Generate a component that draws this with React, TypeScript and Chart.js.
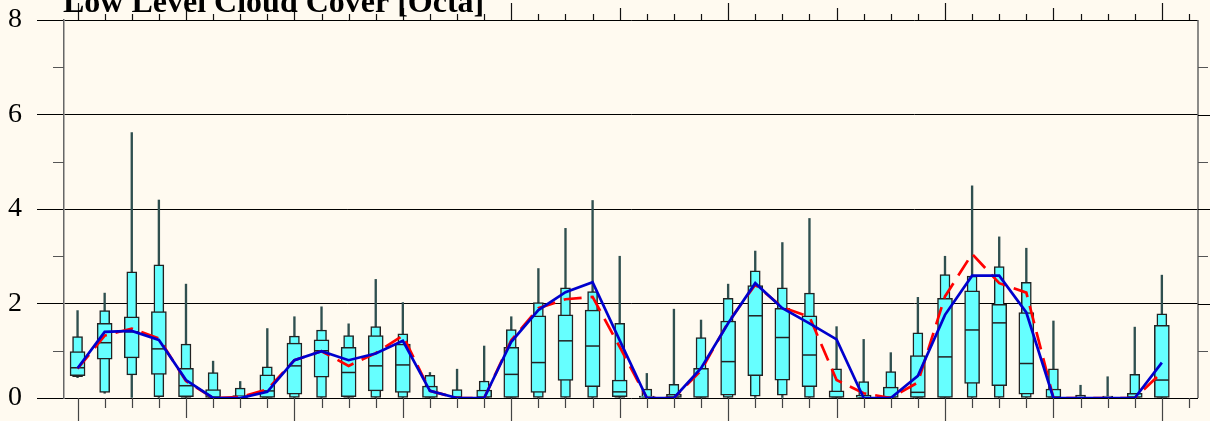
import React, { useEffect, useRef } from 'react';
import { Chart, registerables } from 'chart.js';

Chart.register(...registerables);

// Forecast lead time in hours (3-hourly steps)
const leadHours = [0, 3, 6, 9, 12, 15, 18, 21, 24, 27, 30, 33, 36, 39, 42, 45, 48, 51, 54, 57, 60, 63, 66, 69, 72, 75, 78, 81, 84, 87, 90, 93, 96, 99, 102, 105, 108, 111, 114, 117, 120];

// Ensemble distribution (octa)
const ensMin = [0.43, 0.10, 0, 0, 0, 0, 0, 0, 0, 0, 0, 0, 0, 0, 0, 0, 0, 0, 0, 0, 0, 0, 0, 0, 0, 0, 0, 0, 0, 0, 0, 0, 0, 0, 0, 0, 0, 0, 0, 0, 0];
const ensP10 = [0.45, 0.12, 0.49, 0.03, 0, 0, 0, 0, 0, 0, 0, 0, 0, 0, 0, 0, 0, 0, 0, 0, 0, 0, 0, 0, 0, 0.04, 0.06, 0, 0, 0, 0, 0, 0, 0, 0, 0, 0, 0, 0, 0, 0];
const ensP25 = [0.47, 0.82, 0.85, 0.50, 0.03, 0, 0, 0, 0.08, 0.44, 0.03, 0.15, 0.12, 0, 0, 0, 0, 0.12, 0.37, 0.24, 0.03, 0, 0, 0, 0.06, 0.47, 0.38, 0.24, 0, 0, 0, 0, 0, 0.31, 0.26, 0.08, 0, 0, 0, 0, 0];
const ensMedian = [0.64, 1.17, 1.40, 1.04, 0.26, 0, 0, 0.15, 0.68, 1.00, 0.54, 0.68, 0.70, 0, 0, 0, 0.50, 0.75, 1.21, 1.10, 0.13, 0, 0, 0, 0.77, 1.74, 1.28, 0.91, 0, 0, 0, 0.12, 0.87, 1.44, 1.59, 0.73, 0, 0, 0, 0, 0.38];
const ensP75 = [0.98, 1.58, 1.72, 1.83, 0.63, 0.18, 0.05, 0.49, 1.16, 1.23, 1.07, 1.32, 1.14, 0.25, 0, 0.17, 1.07, 1.74, 1.76, 1.86, 0.38, 0.04, 0.08, 0.63, 1.63, 2.38, 1.90, 1.74, 0.15, 0.06, 0.23, 0.90, 2.11, 2.27, 1.98, 1.81, 0.19, 0, 0, 0.10, 1.54];
const ensP90 = [1.30, 1.85, 2.67, 2.82, 1.14, 0.54, 0.21, 0.66, 1.31, 1.44, 1.32, 1.51, 1.36, 0.48, 0.18, 0.36, 1.45, 2.02, 2.33, 2.25, 1.58, 0.19, 0.29, 1.28, 2.11, 2.69, 2.33, 2.22, 0.62, 0.35, 0.56, 1.38, 2.61, 2.58, 2.78, 2.45, 0.62, 0.06, 0.04, 0.50, 1.78];
const ensMax = [1.85, 2.22, 5.62, 4.19, 2.41, 0.78, 0.35, 1.47, 1.72, 1.93, 1.57, 2.51, 2.02, 0.54, 0.61, 1.10, 1.72, 2.74, 3.59, 4.18, 3.00, 0.52, 1.88, 1.65, 2.41, 3.11, 3.29, 3.80, 1.51, 1.24, 0.96, 2.13, 3.00, 4.49, 3.41, 3.17, 1.63, 0.27, 0.45, 1.50, 2.60];
// Ensemble mean (blue) and deterministic forecast (red dashed)
const ensMean = [0.63, 1.40, 1.42, 1.23, 0.38, 0, 0, 0.13, 0.80, 0.99, 0.80, 0.94, 1.21, 0.15, 0, 0, 1.19, 1.86, 2.24, 2.45, 1.22, 0, 0, 0.63, 1.58, 2.43, 1.90, 1.58, 1.24, 0, 0, 0.47, 1.76, 2.59, 2.59, 1.81, 0, 0, 0, 0, 0.75];
const deterministic = [0.62, 1.32, 1.47, 1.26, 0.36, 0, 0.02, 0.18, 0.80, 0.99, 0.68, 0.95, 1.32, 0.15, 0, 0, 1.22, 1.90, 2.09, 2.14, 1.08, 0, 0, 0.58, 1.60, 2.40, 1.92, 1.72, 0.38, 0.10, 0, 0.33, 2.15, 3.05, 2.43, 2.23, 0, 0, 0, 0, 0.54];

const yTickValues = [0, 2, 4, 6, 8];
const titleText = 'Low Level Cloud Cover [Octa]';

const BG = '#FFFAF0';
const CYAN = '#66FFFF';
const EDGE = '#222222';
const WHISKER = '#2F4F4F';

function range(lo: number[], hi: number[]) {
  const out: { x: number; y: [number, number] }[] = [];
  leadHours.forEach((h, i) => {
    if (hi[i] - lo[i] > 0.001) out.push({ x: h, y: [lo[i], hi[i]] });
  });
  return out;
}

const decorPlugin = {
  id: 'decor',
  beforeDraw(chart: any) {
    const ctx = chart.ctx;
    ctx.save();
    ctx.fillStyle = BG;
    ctx.fillRect(0, 0, chart.width, chart.height);
    ctx.restore();
  },
  afterDraw(chart: any) {
    const ctx = chart.ctx;
    const xs = chart.scales.x;
    const ys = chart.scales.y;
    const area = chart.chartArea;
    ctx.save();
    // top and bottom time ticks
    for (let i = 0; i <= 41; i++) {
      const px = Math.round(xs.getPixelForValue(i * 3)) + 0.5;
      const topLen = i % 8 === 0 ? 17 : i % 8 === 4 ? 12 : 6;
      const botLen = i % 8 === 0 ? 23 : i % 8 === 4 ? 20 : 10;
      ctx.strokeStyle = '#111';
      ctx.lineWidth = 1.2;
      ctx.beginPath();
      ctx.moveTo(px, area.top);
      ctx.lineTo(px, area.top - topLen);
      ctx.stroke();
      ctx.strokeStyle = '#444';
      ctx.beginPath();
      ctx.moveTo(px, area.bottom);
      ctx.lineTo(px, area.bottom + botLen);
      ctx.stroke();
    }
    // right axis
    ctx.strokeStyle = '#666';
    ctx.lineWidth = 1.5;
    ctx.beginPath();
    ctx.moveTo(area.right, area.top);
    ctx.lineTo(area.right, area.bottom);
    ctx.stroke();
    // minor y ticks left and right
    ctx.lineWidth = 1;
    [1, 3, 5, 7].forEach((v) => {
      const py = Math.round(ys.getPixelForValue(v)) + 0.5;
      ctx.strokeStyle = '#555';
      ctx.beginPath();
      ctx.moveTo(area.left - 11, py);
      ctx.lineTo(area.left, py);
      ctx.moveTo(area.right, py);
      ctx.lineTo(area.right + 10, py);
      ctx.stroke();
    });
    // gridline extensions to the right
    ctx.strokeStyle = '#000';
    [2, 4, 6].forEach((v) => {
      const py = Math.round(ys.getPixelForValue(v)) + 0.5;
      ctx.beginPath();
      ctx.moveTo(area.right, py);
      ctx.lineTo(chart.width, py);
      ctx.stroke();
    });
    // title
    ctx.fillStyle = '#000';
    ctx.font = 'bold 32px "Liberation Serif", serif';
    ctx.textBaseline = 'alphabetic';
    ctx.textAlign = 'left';
    ctx.fillText(titleText, 63, 12);
    ctx.restore();
  },
};

export default function App() {
  const ref = useRef<HTMLCanvasElement | null>(null);
  useEffect(() => {
    if (!ref.current) return;
    const boxBase = {
      type: 'bar' as const,
      grouped: false,
      backgroundColor: CYAN,
      borderColor: EDGE,
      borderWidth: 1.5,
      borderSkipped: false,
    };
    const chart = new Chart(ref.current, {
      type: 'bar',
      data: {
        datasets: [
          {
            type: 'line',
            label: 'mean',
            data: leadHours.map((h, i) => ({ x: h, y: ensMean[i] })),
            borderColor: '#0000CD',
            borderWidth: 2.7,
            pointRadius: 0,
            tension: 0,
            order: 1,
          } as any,
          {
            type: 'line',
            label: 'deterministic',
            data: leadHours.map((h, i) => ({ x: h, y: deterministic[i] })),
            borderColor: '#FF0000',
            borderWidth: 2.7,
            borderDash: [18, 9],
            pointRadius: 0,
            tension: 0,
            order: 2,
          } as any,
          {
            type: 'line',
            label: 'median',
            data: leadHours
              .map((h, i) => ({ x: h, y: ensMedian[i], ok: ensMedian[i] > ensP25[i] }))
              .filter((d) => d.ok)
              .map((d) => ({ x: d.x, y: d.y })),
            showLine: false,
            pointStyle: 'line',
            pointRadius: 7,
            pointBorderWidth: 1.5,
            pointBorderColor: EDGE,
            order: 3,
          } as any,
          { ...boxBase, label: 'p25-p75', data: range(ensP25, ensP75), barThickness: 15, order: 4 } as any,
          { ...boxBase, label: 'p10-p90', data: range(ensP10, ensP90), barThickness: 10, order: 5 } as any,
          {
            type: 'bar',
            label: 'min-max',
            grouped: false,
            data: range(ensMin, ensMax),
            barThickness: 1.7,
            backgroundColor: WHISKER,
            borderWidth: 0,
            order: 6,
          } as any,
        ],
      },
      options: {
        responsive: false,
        animation: false,
        devicePixelRatio: 1,
        layout: { padding: { left: 0, top: 20, right: 12, bottom: 23 } },
        plugins: { legend: { display: false }, tooltip: { enabled: false } },
        scales: {
          x: {
            type: 'linear',
            min: -1.5,
            max: 124,
            offset: false,
            display: false,
          },
          y: {
            type: 'linear',
            position: 'left',
            min: 0,
            max: 8,
            afterFit: (s: any) => {
              s.width = 64;
              s.paddingTop = 0;
              s.paddingBottom = 0;
              s.paddingLeft = 0;
              s.paddingRight = 0;
            },
            afterBuildTicks: (s: any) => {
              s.ticks = yTickValues.map((v) => ({ value: v }));
            },
            ticks: {
              color: '#000',
              padding: 15,
              font: { family: '"Liberation Serif", serif', size: 28 },
            },
            grid: { color: '#000', lineWidth: 1, tickLength: 27, tickColor: '#000' },
            border: { color: '#666', width: 1.5 },
          },
        },
      },
      plugins: [decorPlugin],
    } as any);
    return () => chart.destroy();
  }, []);
  return (
    <div style={{ position: 'absolute', left: 0, top: 0, width: 1210, height: 421 }}>
      <canvas ref={ref} width={1210} height={421} style={{ display: 'block', width: 1210, height: 421 }} />
    </div>
  );
}
